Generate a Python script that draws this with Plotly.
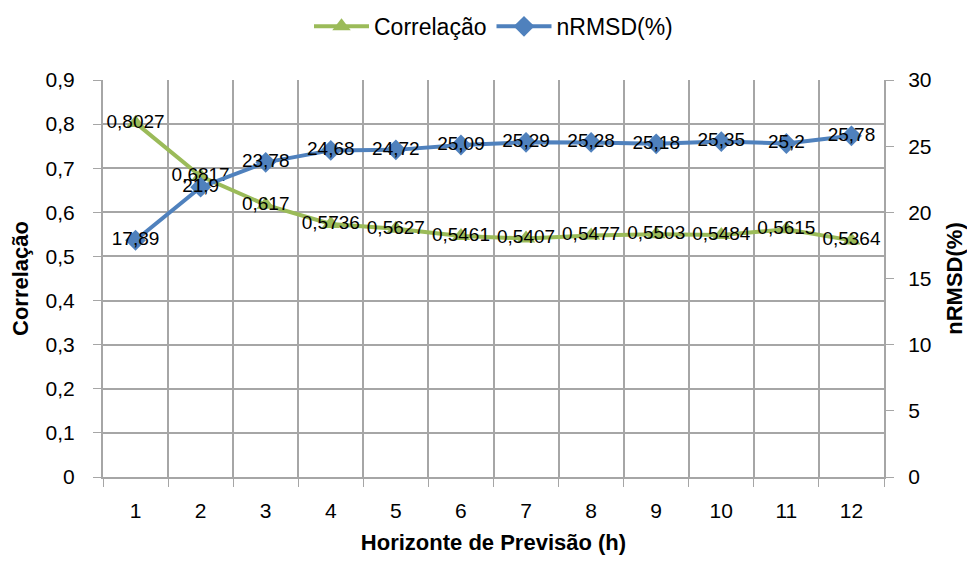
import plotly.graph_objects as go

horizons = [1, 2, 3, 4, 5, 6, 7, 8, 9, 10, 11, 12]
correlacao = [0.8027, 0.6817, 0.617, 0.5736, 0.5627, 0.5461, 0.5407, 0.5477, 0.5503, 0.5484, 0.5615, 0.5364]
nrmsd = [17.89, 21.9, 23.78, 24.68, 24.72, 25.09, 25.29, 25.28, 25.18, 25.35, 25.2, 25.78]

GREEN = "#9BBB59"
BLUE = "#4F81BD"
GRID = "#A6A6A6"
FONT = "Liberation Sans, Arial, sans-serif"

def fmt(v):
    return str(v).replace(".", ",")

fig = go.Figure()
fig.add_trace(go.Scatter(
    x=horizons, y=correlacao, name="Correlação", mode="lines+markers+text",
    line=dict(color=GREEN, width=4),
    marker=dict(symbol="triangle-up", size=16, color=GREEN),
    text=[fmt(v) for v in correlacao], textposition="middle center",
    textfont=dict(size=19, color="black", family=FONT),
    yaxis="y", cliponaxis=False,
))
fig.add_trace(go.Scatter(
    x=horizons, y=nrmsd, name="nRMSD(%)", mode="lines+markers+text",
    line=dict(color=BLUE, width=4),
    marker=dict(symbol="diamond", size=16, color=BLUE),
    text=[fmt(v) for v in nrmsd], textposition="middle center",
    textfont=dict(size=19, color="black", family=FONT),
    yaxis="y2", cliponaxis=False,
))

bounds = [h - 0.5 for h in horizons] + [horizons[-1] + 0.5]

fig.update_layout(
    width=959, height=547,
    margin=dict(l=95, r=83, t=72, b=78, autoexpand=False),
    paper_bgcolor="white", plot_bgcolor="white",
    separators=",.",
    font=dict(family=FONT, size=21, color="black"),
    showlegend=True,
    legend=dict(orientation="h", x=0.5, xanchor="center", y=1.135, yanchor="middle",
                font=dict(size=23), traceorder="normal", itemwidth=55),
    xaxis=dict(
        range=[0.5, 12.5], tickvals=horizons, ticktext=[str(h) for h in horizons],
        showgrid=False, ticks="", showline=True, linecolor=GRID, linewidth=2,
        tickfont=dict(size=21), automargin=False, ticklabelstandoff=14,
        minor=dict(tickvals=bounds, showgrid=True, gridcolor=GRID, gridwidth=1.5,
                   ticks="outside", ticklen=8, tickcolor=GRID),
        title=dict(text="<b>Horizonte de Previsão (h)</b>", font=dict(size=22), standoff=25),
        zeroline=False,
    ),
    yaxis=dict(
        range=[0, 0.9], dtick=0.1, tick0=0,
        showgrid=True, gridcolor=GRID, gridwidth=1.5,
        showline=True, linecolor=GRID, linewidth=2,
        ticks="outside", ticklen=8, tickcolor=GRID, ticklabelstandoff=14,
        tickfont=dict(size=21), zeroline=False, automargin=False,
        title=dict(text="<b>Correlação</b>", font=dict(size=22), standoff=12),
    ),
    yaxis2=dict(
        range=[0, 30], dtick=5, tick0=0, overlaying="y", side="right",
        showgrid=False, showline=True, linecolor=GRID, linewidth=2,
        ticks="outside", ticklen=8, tickcolor=GRID, ticklabelstandoff=10,
        tickfont=dict(size=21), zeroline=False, automargin=False,
        title=dict(text="<b>nRMSD(%)</b>", font=dict(size=22), standoff=19),
    ),
)

fig.write_html("out.html")
